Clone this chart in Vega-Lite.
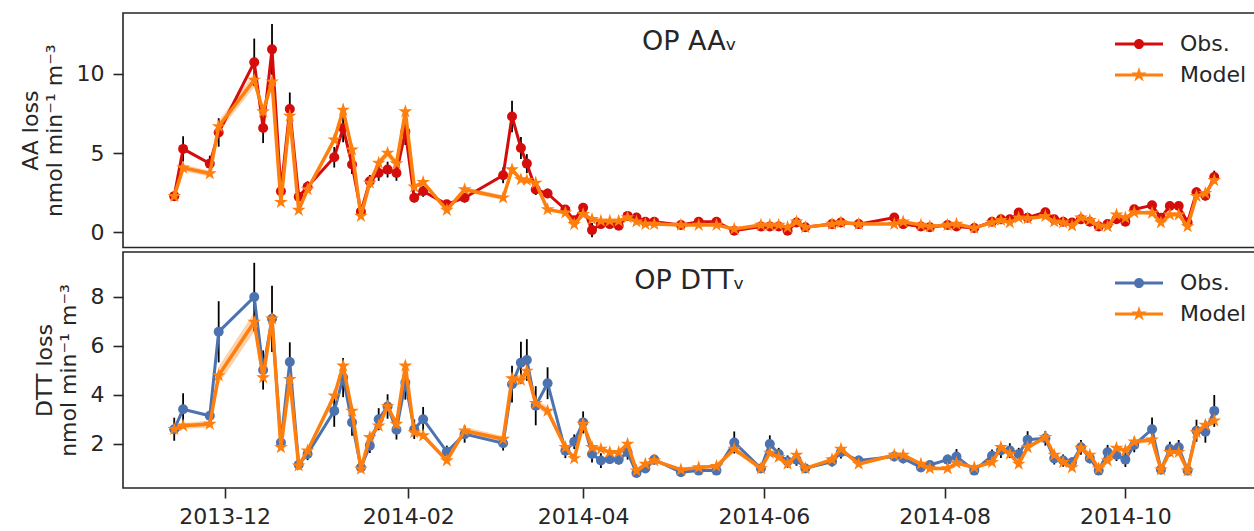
{
"$schema": "https://vega.github.io/schema/vega-lite/v6.json",
"padding": {"left": 18, "top": 10, "right": 0, "bottom": 0},
"config": {
  "font": "DejaVu Sans",
  "view": {"stroke": "#262626", "strokeWidth": 1.6},
  "axis": {"domain": false, "grid": false, "tickSize": 10, "tickWidth": 1.6, "tickColor": "#262626", "labelFontSize": 22, "labelColor": "#262626", "labelPadding": 9, "titleFontSize": 22, "titleFontWeight": "normal", "titleColor": "#262626", "titlePadding": 10, "titleLineHeight": 24},
  "legend": {"orient": "none", "title": null, "symbolSize": 576, "symbolStrokeWidth": 0, "symbolOpacity": 1, "labelFontSize": 22, "labelColor": "#262626", "labelOffset": 29, "rowPadding": 8},
  "title": {"fontSize": 27, "fontWeight": "normal", "color": "#262626", "anchor": "middle"}
},
"datasets": {
"aa": [
{"d":"2013-11-14","obs":2.27,"err":0.25,"mod":2.27,"me":0.1},
{"d":"2013-11-17","obs":5.26,"err":0.8,"mod":4.06,"me":0.2},
{"d":"2013-11-26","obs":4.33,"err":0.5,"mod":3.70,"me":0.2},
{"d":"2013-11-29","obs":6.30,"err":0.9,"mod":6.68,"me":0.35},
{"d":"2013-12-11","obs":10.74,"err":1.5,"mod":9.62,"me":0.45},
{"d":"2013-12-14","obs":6.58,"err":0.95,"mod":7.62,"me":0.3},
{"d":"2013-12-17","obs":11.56,"err":1.6,"mod":9.51,"me":0.4},
{"d":"2013-12-20","obs":2.58,"err":0.35,"mod":1.89,"me":0.1},
{"d":"2013-12-23","obs":7.78,"err":1.05,"mod":7.35,"me":0.3},
{"d":"2013-12-26","obs":2.23,"err":0.3,"mod":1.39,"me":0.1},
{"d":"2013-12-29","obs":2.86,"err":0.35,"mod":2.69,"me":0.12},
{"d":"2014-01-07","obs":4.73,"err":0.65,"mod":5.84,"me":0.25},
{"d":"2014-01-10","obs":6.58,"err":0.9,"mod":7.73,"me":0.3},
{"d":"2014-01-13","obs":4.27,"err":0.6,"mod":5.21,"me":0.2},
{"d":"2014-01-16","obs":1.29,"err":0.2,"mod":1.01,"me":0.06},
{"d":"2014-01-19","obs":3.21,"err":0.4,"mod":3.11,"me":0.15},
{"d":"2014-01-22","obs":3.74,"err":0.5,"mod":4.37,"me":0.2},
{"d":"2014-01-25","obs":3.95,"err":0.5,"mod":5.0,"me":0.25},
{"d":"2014-01-28","obs":3.74,"err":0.5,"mod":4.33,"me":0.2},
{"d":"2014-01-31","obs":6.36,"err":0.85,"mod":7.62,"me":0.3},
{"d":"2014-02-03","obs":2.17,"err":0.3,"mod":2.86,"me":0.12},
{"d":"2014-02-06","obs":2.58,"err":0.35,"mod":3.15,"me":0.15},
{"d":"2014-02-14","obs":1.75,"err":0.25,"mod":1.39,"me":0.08},
{"d":"2014-02-20","obs":2.17,"err":0.3,"mod":2.69,"me":0.15},
{"d":"2014-03-05","obs":3.59,"err":0.5,"mod":2.17,"me":0.15},
{"d":"2014-03-08","obs":7.31,"err":1.0,"mod":3.95,"me":0.2},
{"d":"2014-03-11","obs":5.32,"err":0.7,"mod":3.32,"me":0.15},
{"d":"2014-03-13","obs":4.33,"err":0.6,"mod":3.28,"me":0.15},
{"d":"2014-03-16","obs":2.69,"err":0.35,"mod":3.11,"me":0.15},
{"d":"2014-03-20","obs":2.44,"err":0.3,"mod":1.43,"me":0.08},
{"d":"2014-03-26","obs":1.43,"err":0.2,"mod":1.22,"me":0.06},
{"d":"2014-03-29","obs":0.75,"err":0.12,"mod":0.49,"me":0.04},
{"d":"2014-04-01","obs":1.54,"err":0.2,"mod":1.12,"me":0.06},
{"d":"2014-04-04","obs":0.12,"err":0.45,"mod":0.81,"me":0.05},
{"d":"2014-04-07","obs":0.5,"err":0.1,"mod":0.7,"me":0.04},
{"d":"2014-04-10","obs":0.5,"err":0.1,"mod":0.7,"me":0.04},
{"d":"2014-04-13","obs":0.4,"err":0.1,"mod":0.7,"me":0.04},
{"d":"2014-04-16","obs":1.02,"err":0.15,"mod":0.92,"me":0.05},
{"d":"2014-04-19","obs":0.92,"err":0.12,"mod":0.65,"me":0.04},
{"d":"2014-04-22","obs":0.65,"err":0.1,"mod":0.5,"me":0.04},
{"d":"2014-04-25","obs":0.65,"err":0.1,"mod":0.5,"me":0.04},
{"d":"2014-05-04","obs":0.44,"err":0.08,"mod":0.44,"me":0.03},
{"d":"2014-05-10","obs":0.65,"err":0.1,"mod":0.44,"me":0.03},
{"d":"2014-05-16","obs":0.65,"err":0.1,"mod":0.44,"me":0.03},
{"d":"2014-05-22","obs":0.08,"err":0.1,"mod":0.19,"me":0.03},
{"d":"2014-05-31","obs":0.35,"err":0.08,"mod":0.44,"me":0.03},
{"d":"2014-06-03","obs":0.35,"err":0.08,"mod":0.44,"me":0.03},
{"d":"2014-06-06","obs":0.35,"err":0.08,"mod":0.44,"me":0.03},
{"d":"2014-06-09","obs":0.08,"err":0.08,"mod":0.3,"me":0.03},
{"d":"2014-06-12","obs":0.6,"err":0.1,"mod":0.65,"me":0.04},
{"d":"2014-06-15","obs":0.3,"err":0.08,"mod":0.3,"me":0.03},
{"d":"2014-06-24","obs":0.5,"err":0.08,"mod":0.5,"me":0.03},
{"d":"2014-06-27","obs":0.6,"err":0.1,"mod":0.6,"me":0.04},
{"d":"2014-07-03","obs":0.5,"err":0.08,"mod":0.5,"me":0.03},
{"d":"2014-07-15","obs":0.92,"err":0.12,"mod":0.5,"me":0.04},
{"d":"2014-07-18","obs":0.5,"err":0.08,"mod":0.65,"me":0.04},
{"d":"2014-07-24","obs":0.35,"err":0.08,"mod":0.44,"me":0.03},
{"d":"2014-07-27","obs":0.3,"err":0.08,"mod":0.35,"me":0.03},
{"d":"2014-08-02","obs":0.44,"err":0.08,"mod":0.44,"me":0.03},
{"d":"2014-08-05","obs":0.35,"err":0.08,"mod":0.5,"me":0.03},
{"d":"2014-08-11","obs":0.25,"err":0.08,"mod":0.25,"me":0.03},
{"d":"2014-08-17","obs":0.65,"err":0.1,"mod":0.6,"me":0.04},
{"d":"2014-08-20","obs":0.8,"err":0.12,"mod":0.75,"me":0.04},
{"d":"2014-08-23","obs":0.8,"err":0.12,"mod":0.6,"me":0.04},
{"d":"2014-08-26","obs":1.23,"err":0.15,"mod":0.9,"me":0.05},
{"d":"2014-08-29","obs":0.9,"err":0.12,"mod":0.85,"me":0.05},
{"d":"2014-09-04","obs":1.25,"err":0.15,"mod":1.0,"me":0.05},
{"d":"2014-09-07","obs":0.8,"err":0.12,"mod":0.65,"me":0.04},
{"d":"2014-09-10","obs":0.65,"err":0.1,"mod":0.6,"me":0.04},
{"d":"2014-09-13","obs":0.6,"err":0.1,"mod":0.4,"me":0.03},
{"d":"2014-09-16","obs":0.8,"err":0.12,"mod":0.9,"me":0.05},
{"d":"2014-09-19","obs":0.65,"err":0.1,"mod":0.75,"me":0.04},
{"d":"2014-09-22","obs":0.35,"err":0.08,"mod":0.4,"me":0.03},
{"d":"2014-09-25","obs":0.5,"err":0.08,"mod":0.35,"me":0.03},
{"d":"2014-09-28","obs":0.81,"err":0.12,"mod":1.1,"me":0.05},
{"d":"2014-10-01","obs":0.65,"err":0.1,"mod":0.9,"me":0.05},
{"d":"2014-10-04","obs":1.44,"err":0.2,"mod":1.23,"me":0.06},
{"d":"2014-10-10","obs":1.69,"err":0.22,"mod":1.2,"me":0.06},
{"d":"2014-10-13","obs":0.9,"err":0.12,"mod":0.6,"me":0.04},
{"d":"2014-10-16","obs":1.65,"err":0.2,"mod":1.1,"me":0.06},
{"d":"2014-10-19","obs":1.65,"err":0.2,"mod":1.1,"me":0.06},
{"d":"2014-10-22","obs":0.6,"err":0.1,"mod":0.35,"me":0.03},
{"d":"2014-10-25","obs":2.52,"err":0.3,"mod":2.27,"me":0.1},
{"d":"2014-10-28","obs":2.3,"err":0.3,"mod":2.45,"me":0.1},
{"d":"2014-10-31","obs":3.48,"err":0.4,"mod":3.27,"me":0.15}
],
"dtt": [
{"d":"2013-11-14","obs":2.59,"err":0.47,"mod":2.59,"me":0.1},
{"d":"2013-11-17","obs":3.41,"err":0.65,"mod":2.73,"me":0.12},
{"d":"2013-11-26","obs":3.14,"err":0.15,"mod":2.80,"me":0.15},
{"d":"2013-11-29","obs":6.57,"err":1.25,"mod":4.79,"me":0.35},
{"d":"2013-12-11","obs":7.99,"err":1.4,"mod":6.97,"me":0.4},
{"d":"2013-12-14","obs":5.01,"err":0.8,"mod":4.70,"me":0.25},
{"d":"2013-12-17","obs":7.10,"err":1.35,"mod":7.10,"me":0.3},
{"d":"2013-12-20","obs":2.05,"err":0.3,"mod":1.85,"me":0.1},
{"d":"2013-12-23","obs":5.34,"err":0.8,"mod":4.63,"me":0.2},
{"d":"2013-12-26","obs":1.14,"err":0.15,"mod":1.10,"me":0.06},
{"d":"2013-12-29","obs":1.58,"err":0.25,"mod":1.71,"me":0.08},
{"d":"2014-01-07","obs":3.34,"err":0.65,"mod":3.96,"me":0.2},
{"d":"2014-01-10","obs":4.70,"err":0.8,"mod":5.18,"me":0.2},
{"d":"2014-01-13","obs":2.87,"err":0.55,"mod":3.34,"me":0.15},
{"d":"2014-01-16","obs":1.03,"err":0.15,"mod":0.97,"me":0.05},
{"d":"2014-01-19","obs":1.92,"err":0.3,"mod":2.26,"me":0.1},
{"d":"2014-01-22","obs":3.0,"err":0.45,"mod":2.73,"me":0.12},
{"d":"2014-01-25","obs":3.52,"err":0.5,"mod":3.52,"me":0.15},
{"d":"2014-01-28","obs":2.57,"err":0.4,"mod":2.80,"me":0.12},
{"d":"2014-01-31","obs":4.50,"err":0.7,"mod":5.18,"me":0.2},
{"d":"2014-02-03","obs":2.59,"err":0.4,"mod":2.46,"me":0.12},
{"d":"2014-02-06","obs":3.0,"err":0.5,"mod":2.33,"me":0.12},
{"d":"2014-02-14","obs":1.67,"err":0.25,"mod":1.31,"me":0.08},
{"d":"2014-02-20","obs":2.39,"err":0.35,"mod":2.53,"me":0.15},
{"d":"2014-03-05","obs":2.02,"err":0.3,"mod":2.19,"me":0.12},
{"d":"2014-03-08","obs":4.43,"err":0.75,"mod":4.66,"me":0.2},
{"d":"2014-03-11","obs":5.31,"err":0.85,"mod":4.6,"me":0.2},
{"d":"2014-03-13","obs":5.42,"err":0.85,"mod":4.97,"me":0.2},
{"d":"2014-03-16","obs":3.55,"err":0.8,"mod":3.65,"me":0.15},
{"d":"2014-03-20","obs":4.47,"err":0.65,"mod":3.34,"me":0.18},
{"d":"2014-03-26","obs":1.71,"err":0.3,"mod":1.85,"me":0.1},
{"d":"2014-03-29","obs":2.08,"err":0.3,"mod":1.40,"me":0.08},
{"d":"2014-04-01","obs":2.87,"err":0.45,"mod":2.80,"me":0.12},
{"d":"2014-04-04","obs":1.58,"err":0.35,"mod":1.85,"me":0.1},
{"d":"2014-04-07","obs":1.31,"err":0.3,"mod":1.78,"me":0.1},
{"d":"2014-04-10","obs":1.37,"err":0.2,"mod":1.65,"me":0.08},
{"d":"2014-04-13","obs":1.35,"err":0.2,"mod":1.65,"me":0.08},
{"d":"2014-04-16","obs":1.65,"err":0.3,"mod":1.99,"me":0.1},
{"d":"2014-04-19","obs":0.80,"err":0.12,"mod":0.90,"me":0.05},
{"d":"2014-04-22","obs":0.99,"err":0.15,"mod":1.17,"me":0.06},
{"d":"2014-04-25","obs":1.35,"err":0.2,"mod":1.31,"me":0.06},
{"d":"2014-05-04","obs":0.83,"err":0.12,"mod":0.94,"me":0.05},
{"d":"2014-05-10","obs":0.90,"err":0.12,"mod":1.03,"me":0.05},
{"d":"2014-05-16","obs":0.90,"err":0.15,"mod":1.08,"me":0.05},
{"d":"2014-05-22","obs":2.05,"err":0.45,"mod":1.78,"me":0.12},
{"d":"2014-05-31","obs":0.99,"err":0.15,"mod":0.99,"me":0.05},
{"d":"2014-06-03","obs":1.99,"err":0.35,"mod":1.62,"me":0.08},
{"d":"2014-06-06","obs":1.58,"err":0.25,"mod":1.45,"me":0.08},
{"d":"2014-06-09","obs":1.27,"err":0.25,"mod":1.17,"me":0.06},
{"d":"2014-06-12","obs":1.35,"err":0.25,"mod":1.54,"me":0.08},
{"d":"2014-06-15","obs":0.99,"err":0.15,"mod":0.99,"me":0.05},
{"d":"2014-06-24","obs":1.27,"err":0.2,"mod":1.35,"me":0.07},
{"d":"2014-06-27","obs":1.65,"err":0.25,"mod":1.78,"me":0.08},
{"d":"2014-07-03","obs":1.31,"err":0.2,"mod":1.17,"me":0.06},
{"d":"2014-07-15","obs":1.48,"err":0.2,"mod":1.54,"me":0.08},
{"d":"2014-07-18","obs":1.40,"err":0.2,"mod":1.54,"me":0.08},
{"d":"2014-07-24","obs":1.03,"err":0.15,"mod":1.17,"me":0.06},
{"d":"2014-07-27","obs":1.13,"err":0.15,"mod":0.99,"me":0.05},
{"d":"2014-08-02","obs":1.35,"err":0.2,"mod":0.99,"me":0.05},
{"d":"2014-08-05","obs":1.48,"err":0.3,"mod":1.21,"me":0.06},
{"d":"2014-08-11","obs":0.90,"err":0.15,"mod":1.03,"me":0.05},
{"d":"2014-08-17","obs":1.51,"err":0.25,"mod":1.24,"me":0.06},
{"d":"2014-08-20","obs":1.72,"err":0.3,"mod":1.85,"me":0.08},
{"d":"2014-08-23","obs":1.72,"err":0.3,"mod":1.58,"me":0.08},
{"d":"2014-08-26","obs":1.58,"err":0.25,"mod":1.17,"me":0.06},
{"d":"2014-08-29","obs":2.16,"err":0.35,"mod":1.85,"me":0.08},
{"d":"2014-09-04","obs":2.22,"err":0.3,"mod":2.26,"me":0.1},
{"d":"2014-09-07","obs":1.40,"err":0.25,"mod":1.54,"me":0.08},
{"d":"2014-09-10","obs":1.31,"err":0.25,"mod":1.24,"me":0.06},
{"d":"2014-09-13","obs":1.24,"err":0.2,"mod":1.03,"me":0.05},
{"d":"2014-09-16","obs":1.85,"err":0.3,"mod":1.82,"me":0.08},
{"d":"2014-09-19","obs":1.40,"err":0.2,"mod":1.54,"me":0.08},
{"d":"2014-09-22","obs":0.90,"err":0.15,"mod":0.99,"me":0.05},
{"d":"2014-09-25","obs":1.65,"err":0.3,"mod":1.31,"me":0.06},
{"d":"2014-09-28","obs":1.54,"err":0.25,"mod":1.82,"me":0.08},
{"d":"2014-10-01","obs":1.35,"err":0.3,"mod":1.72,"me":0.08},
{"d":"2014-10-04","obs":1.95,"err":0.3,"mod":2.08,"me":0.1},
{"d":"2014-10-10","obs":2.59,"err":0.48,"mod":2.16,"me":0.1},
{"d":"2014-10-13","obs":0.94,"err":0.15,"mod":0.94,"me":0.05},
{"d":"2014-10-16","obs":1.78,"err":0.3,"mod":1.65,"me":0.08},
{"d":"2014-10-19","obs":1.85,"err":0.3,"mod":1.65,"me":0.08},
{"d":"2014-10-22","obs":0.90,"err":0.15,"mod":0.90,"me":0.05},
{"d":"2014-10-25","obs":2.53,"err":0.45,"mod":2.46,"me":0.1},
{"d":"2014-10-28","obs":2.49,"err":0.45,"mod":2.76,"me":0.12},
{"d":"2014-10-31","obs":3.34,"err":0.65,"mod":2.94,"me":0.15}
],
"leg": [{"s":"Obs."},{"s":"Model"}]
},
"spacing": 0,
"resolve": {"scale": {"color": "independent", "shape": "independent"}},
"vconcat": [
{
  "width": 1133, "height": 234.5,
  "title": {"text": "OP AAᵥ", "offset": -45},
  "data": {"name": "aa"},
  "encoding": {"x": {"field": "d", "type": "temporal", "scale": {"type": "utc", "domain": [{"year":2013,"month":10,"date":27,"hours":17,"utc":true},{"year":2014,"month":11,"date":14,"hours":2,"utc":true}]}, "axis": null}},
  "layer": [
    {"mark": {"type": "errorband", "color": "#ff7f0e", "opacity": 0.35},
     "encoding": {"y": {"field": "mod", "type": "quantitative", "scale": {"domain": [-0.98, 13.86], "zero": false, "nice": false}, "axis": {"values": [0,5,10], "title": ["AA loss", "nmol min⁻¹ m⁻³"]}}, "yError": {"field": "me"}}},
    {"mark": {"type": "errorbar", "color": "black", "thickness": 1.8},
     "encoding": {"y": {"field": "obs", "type": "quantitative", "title": ["AA loss", "nmol min⁻¹ m⁻³"]}, "yError": {"field": "err"}}},
    {"mark": {"type": "line", "color": "#d40c0c", "strokeWidth": 3},
     "encoding": {"y": {"field": "obs", "type": "quantitative", "title": ["AA loss", "nmol min⁻¹ m⁻³"]}}},
    {"mark": {"type": "point", "shape": "circle", "filled": true, "size": 100, "color": "#d40c0c", "opacity": 1},
     "encoding": {"y": {"field": "obs", "type": "quantitative", "title": ["AA loss", "nmol min⁻¹ m⁻³"]}}},
    {"mark": {"type": "line", "color": "#ff7f0e", "strokeWidth": 3.5},
     "encoding": {"y": {"field": "mod", "type": "quantitative", "title": ["AA loss", "nmol min⁻¹ m⁻³"]}}},
    {"mark": {"type": "point", "shape": "M0,-1L0.2245,-0.309L0.951,-0.309L0.363,0.118L0.588,0.809L0,0.382L-0.588,0.809L-0.363,0.118L-0.951,-0.309L-0.2245,-0.309Z", "filled": true, "size": 210, "color": "#ff7f0e", "opacity": 1},
     "encoding": {"y": {"field": "mod", "type": "quantitative", "title": ["AA loss", "nmol min⁻¹ m⁻³"]}}},
    {"data": {"name": "leg"},
     "mark": {"type": "point", "filled": true, "opacity": 0},
     "encoding": {
       "x": {"value": 0}, "y": {"value": 0},
       "color": {"field": "s", "type": "nominal", "scale": {"domain": ["Obs.", "Model"], "range": ["#d40c0c", "#ff7f0e"]}, "legend": {"legendX": 1004, "legendY": 19}},
       "shape": {"field": "s", "type": "nominal", "scale": {"domain": ["Obs.", "Model"], "range": ["M-2,-0.125H2V0.125H-2Z M0.42,0A0.42,0.42 0 1,1 -0.42,0A0.42,0.42 0 1,1 0.42,0Z", "M-2,-0.125H2V0.125H-2Z M0,-0.67L0.15,-0.207L0.637,-0.207L0.243,0.079L0.394,0.542L0,0.256L-0.394,0.542L-0.243,0.079L-0.637,-0.207L-0.15,-0.207Z"]}, "legend": {"legendX": 1004, "legendY": 19}}
     }}
  ]
},
{
  "width": 1133, "height": 236,
  "title": {"text": "OP DTTᵥ", "offset": -45},
  "data": {"name": "dtt"},
  "encoding": {"x": {"field": "d", "type": "temporal", "scale": {"type": "utc", "domain": [{"year":2013,"month":10,"date":27,"hours":17,"utc":true},{"year":2014,"month":11,"date":14,"hours":2,"utc":true}]},
     "axis": {"title": null, "format": "%Y-%m", "labelPadding": 8, "values": [{"year":2013,"month":12,"date":1,"utc":true},{"year":2014,"month":2,"date":1,"utc":true},{"year":2014,"month":4,"date":1,"utc":true},{"year":2014,"month":6,"date":1,"utc":true},{"year":2014,"month":8,"date":1,"utc":true},{"year":2014,"month":10,"date":1,"utc":true}]}}},
  "layer": [
    {"mark": {"type": "errorband", "color": "#ff7f0e", "opacity": 0.35},
     "encoding": {"y": {"field": "mod", "type": "quantitative", "scale": {"domain": [0.19, 9.83], "zero": false, "nice": false}, "axis": {"values": [2,4,6,8], "title": ["DTT loss", "nmol min⁻¹ m⁻³"]}}, "yError": {"field": "me"}}},
    {"mark": {"type": "errorbar", "color": "black", "thickness": 1.8},
     "encoding": {"y": {"field": "obs", "type": "quantitative", "title": ["DTT loss", "nmol min⁻¹ m⁻³"]}, "yError": {"field": "err"}}},
    {"mark": {"type": "line", "color": "#4c72b0", "strokeWidth": 3},
     "encoding": {"y": {"field": "obs", "type": "quantitative", "title": ["DTT loss", "nmol min⁻¹ m⁻³"]}}},
    {"mark": {"type": "point", "shape": "circle", "filled": true, "size": 100, "color": "#4c72b0", "opacity": 1},
     "encoding": {"y": {"field": "obs", "type": "quantitative", "title": ["DTT loss", "nmol min⁻¹ m⁻³"]}}},
    {"mark": {"type": "line", "color": "#ff7f0e", "strokeWidth": 3.5},
     "encoding": {"y": {"field": "mod", "type": "quantitative", "title": ["DTT loss", "nmol min⁻¹ m⁻³"]}}},
    {"mark": {"type": "point", "shape": "M0,-1L0.2245,-0.309L0.951,-0.309L0.363,0.118L0.588,0.809L0,0.382L-0.588,0.809L-0.363,0.118L-0.951,-0.309L-0.2245,-0.309Z", "filled": true, "size": 210, "color": "#ff7f0e", "opacity": 1},
     "encoding": {"y": {"field": "mod", "type": "quantitative", "title": ["DTT loss", "nmol min⁻¹ m⁻³"]}}},
    {"data": {"name": "leg"},
     "mark": {"type": "point", "filled": true, "opacity": 0},
     "encoding": {
       "x": {"value": 0}, "y": {"value": 0},
       "color": {"field": "s", "type": "nominal", "scale": {"domain": ["Obs.", "Model"], "range": ["#4c72b0", "#ff7f0e"]}, "legend": {"legendX": 1004, "legendY": 19}},
       "shape": {"field": "s", "type": "nominal", "scale": {"domain": ["Obs.", "Model"], "range": ["M-2,-0.125H2V0.125H-2Z M0.42,0A0.42,0.42 0 1,1 -0.42,0A0.42,0.42 0 1,1 0.42,0Z", "M-2,-0.125H2V0.125H-2Z M0,-0.67L0.15,-0.207L0.637,-0.207L0.243,0.079L0.394,0.542L0,0.256L-0.394,0.542L-0.243,0.079L-0.637,-0.207L-0.15,-0.207Z"]}, "legend": {"legendX": 1004, "legendY": 19}}
     }}
  ]
}
]
}
